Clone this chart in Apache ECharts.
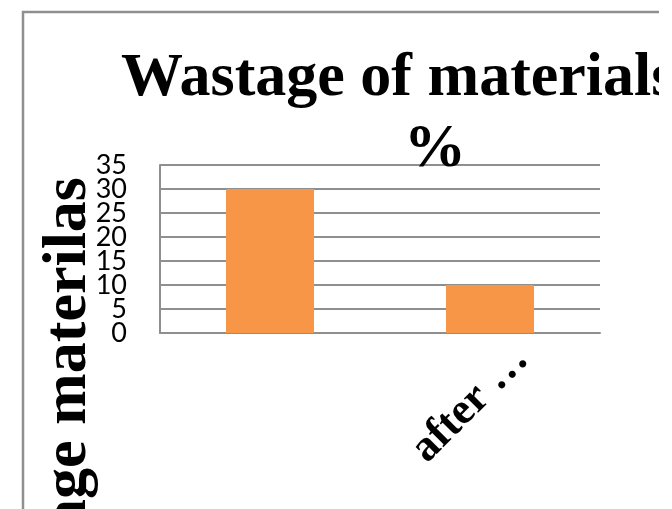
<!DOCTYPE html>
<html>
<head>
<meta charset="utf-8">
<style>
  html, body { margin: 0; padding: 0; background: #fff; }
  #chart { width: 672px; height: 509px; }
</style>
<script src="https://cdn.jsdelivr.net/npm/echarts@6/dist/echarts.min.js"></script>
</head>
<body>
<div id="chart"></div>
<script>
// data
var categories = ["", "after \u2026"];
var wastage = [30, 10];
var yTicks = { min: 0, max: 35, step: 5 };

var serif = "'Liberation Serif', 'Times New Roman', serif";
var gray = "#8f8f8f";

// the tick labels overlap each other in the original, so they are split
// over two stacked axes (even and odd steps) to keep echarts from hiding any
function labelAxis(odd) {
  return {
    type: "value",
    position: "left",
    min: yTicks.min,
    max: yTicks.max,
    interval: yTicks.step,
    axisLine: { show: !odd, lineStyle: { color: gray, width: 2 } },
    axisTick: { show: false },
    splitLine: { show: !odd, lineStyle: { color: gray, width: 2 } },
    axisLabel: {
      margin: 33,
      showMinLabel: true,
      showMaxLabel: true,
      fontFamily: "Lato",
      fontSize: 27,
      color: "#000",
      formatter: function(v) {
        var isOdd = Math.round(v / yTicks.step) % 2 === 1;
        return isOdd === odd ? String(v) : "";
      }
    }
  };
}

var myChart = echarts.init(document.getElementById("chart"));
myChart.setOption({
  animation: false,
  title: [
    {
      text: "Wastage of materials",
      left: 116,
      top: 43,
      textStyle: { fontFamily: serif, fontWeight: "bold", fontSize: 62, lineHeight: 62, color: "#000" }
    },
    {
      text: "%",
      left: 399,
      top: 114,
      textStyle: { fontFamily: serif, fontWeight: "bold", fontSize: 62, lineHeight: 62, color: "#000" }
    }
  ],
  grid: { left: 160, right: 72, top: 165, bottom: 176, containLabel: false, outerBoundsMode: "none" },
  xAxis: {
    type: "category",
    data: categories,
    axisTick: { show: false },
    axisLine: { lineStyle: { color: gray, width: 2 } },
    axisLabel: {
      interval: 0,
      rotate: 45,
      margin: -12,
      align: "right",
      verticalAlign: "top",
      lineHeight: 90,
      fontFamily: serif,
      fontWeight: "bold",
      fontSize: 44,
      color: "#000"
    }
  },
  yAxis: [labelAxis(false), labelAxis(true)],
  series: [
    {
      type: "bar",
      data: wastage,
      yAxisIndex: 0,
      barCategoryGap: "60%",
      itemStyle: { color: "#f79646" }
    }
  ],
  graphic: [
    {
      type: "text",
      x: 69,
      y: 177,
      rotation: Math.PI / 2,
      style: {
        text: "Wastage materilas",
        font: "bold 62px " + serif,
        fill: "#000",
        align: "right",
        verticalAlign: "middle"
      }
    },
    {
      type: "rect",
      shape: { x: 23, y: 12, width: 700, height: 600 },
      style: { fill: "none", stroke: gray, lineWidth: 2.5 }
    },
    {
      type: "rect",
      z: 100,
      shape: { x: 659, y: 0, width: 20, height: 509 },
      style: { fill: "#fff" }
    }
  ]
});
</script>
</body>
</html>
